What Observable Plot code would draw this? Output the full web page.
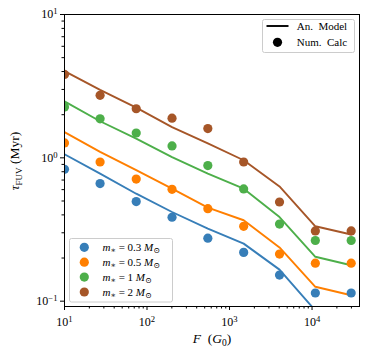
<!DOCTYPE html>
<html><head><meta charset="utf-8">
<script src="https://cdn.jsdelivr.net/npm/d3@7"></script>
<script src="https://cdn.jsdelivr.net/npm/@observablehq/plot@0.6"></script>
<style>body{margin:0;background:#fff}</style>
</head><body><div id="chart"></div>
<script>
// FUV flux values (G0)
const F = [10, 27, 74, 201, 546, 1484, 4034, 10966, 29810];
// Numerical calculation (points), tau_FUV in Myr
const num03 = [0.832, 0.661, 0.495, 0.385, 0.275, 0.219, 0.152, 0.114, 0.114];
const num05 = [1.27, 0.935, 0.711, 0.603, 0.442, 0.333, 0.213, 0.184, 0.184];
const num1  = [2.26, 1.87, 1.49, 1.21, 0.883, 0.607, 0.345, 0.265, 0.265];
const num2  = [3.82, 2.73, 2.20, 1.89, 1.60, 0.935, 0.492, 0.309, 0.309];
// Analytical model (lines)
const mod03 = [1.06, 0.776, 0.562, 0.419, 0.321, 0.252, 0.166, 0.086, 0.075];
const mod05 = [1.51, 1.10, 0.82, 0.61, 0.45, 0.367, 0.237, 0.126, 0.110];
const mod1  = [2.48, 1.80, 1.36, 1.01, 0.776, 0.609, 0.386, 0.204, 0.178];
const mod2  = [4.03, 2.98, 2.24, 1.64, 1.26, 0.962, 0.632, 0.333, 0.292];
const masses = ["0.3", "0.5", "1", "2"];
const colors = ["#377eb8", "#ff7f00", "#4daf4a", "#a65628"];
const xMajor = [10, 100, 1000, 10000];
const xMajorLabels = ["10^1", "10^2", "10^3", "10^4"];
const yMajor = [0.1, 1, 10];
const yMajorLabels = ["10^−1", "10^0", "10^1"];
const xMinor = [20,30,40,50,60,70,80,90,200,300,400,500,600,700,800,900,2000,3000,4000,5000,6000,7000,8000,9000,20000,30000];
const yMinor = [0.2,0.3,0.4,0.5,0.6,0.7,0.8,0.9,2,3,4,5,6,7,8,9];

const nums = [num03, num05, num1, num2];
const mods = [mod03, mod05, mod1, mod2];
const pts = [], lines = [];
masses.forEach((m, i) => {
  F.forEach((f, j) => {
    pts.push({F: f, tau: nums[i][j], m});
    lines.push({F: f, tau: mods[i][j], m});
  });
});

const serif = "'Liberation Serif', 'DejaVu Serif', serif";
const svg = Plot.plot({
  width: 374, height: 357,
  marginLeft: 64, marginRight: 15, marginTop: 14, marginBottom: 51,
  style: {fontFamily: serif, fontSize: "12px", background: "white", color: "black"},
  x: {type: "log", domain: [10, 37600]},
  y: {type: "log", domain: [0.0918, 10]},
  color: {domain: masses, range: colors},
  marks: [
    Plot.line(lines, {x: "F", y: "tau", stroke: "m", z: "m", strokeWidth: 1.9, clip: true}),
    Plot.dot(pts, {x: "F", y: "tau", fill: "m", r: 4.6, clip: true}),
    Plot.axisX(xMinor, {tickSize: 2.5, tickFormat: () => "", label: null}),
    Plot.axisY(yMinor, {tickSize: 2.5, tickFormat: () => "", label: null}),
    Plot.axisX(xMajor, {tickSize: 4, tickPadding: 7, tickFormat: d => xMajorLabels[xMajor.indexOf(d)], label: null}),
    Plot.axisY(yMajor, {tickSize: 4, tickPadding: 3, tickFormat: d => yMajorLabels[yMajor.indexOf(d)], label: null}),
    Plot.frame({stroke: "black", strokeWidth: 1})
  ]
});

const s = d3.select(svg);
// superscript tick labels
s.selectAll('g[aria-label="x-axis tick label"] text, g[aria-label="y-axis tick label"] text').each(function() {
  const t = this.textContent;
  if (!t.includes("^")) return;
  const [b, e] = t.split("^");
  const el = d3.select(this);
  el.text("");
  el.append("tspan").text(b);
  el.append("tspan").attr("dy", "-0.45em").attr("font-size", "0.72em").text(e);
});

// axis labels
const yl = s.append("text").attr("transform", "translate(19,161) rotate(-90)")
  .attr("text-anchor", "middle").attr("font-size", "13.5px").attr("fill", "black");
yl.append("tspan").attr("font-style", "italic").text("τ");
yl.append("tspan").attr("font-size", "9px").attr("dy", "3").text("FUV");
yl.append("tspan").attr("dy", "-3").text(" (Myr)");

const xl = s.append("text").attr("x", 212).attr("y", 343)
  .attr("text-anchor", "middle").attr("font-size", "13.5px").attr("fill", "black")
  .style("white-space", "pre");
xl.append("tspan").attr("font-style", "italic").text("F");
xl.append("tspan").text("  (");
xl.append("tspan").attr("font-style", "italic").text("G");
xl.append("tspan").attr("font-size", "9.5px").attr("dy", "3").text("0");
xl.append("tspan").attr("dy", "-3").text(")");

// legend: model vs numerical
const lg1 = s.append("g").attr("text-anchor", "start");
lg1.append("rect").attr("x", 262.5).attr("y", 19.5).attr("width", 92).attr("height", 33)
  .attr("rx", 2).attr("fill", "white").attr("fill-opacity", 0.8).attr("stroke", "#cccccc");
lg1.append("line").attr("x1", 266.5).attr("x2", 288.5).attr("y1", 26).attr("y2", 26)
  .attr("stroke", "black").attr("stroke-width", 1.9);
lg1.append("circle").attr("cx", 277.5).attr("cy", 42.3).attr("r", 4.6).attr("fill", "black");
lg1.append("text").attr("x", 296.7).attr("y", 30).attr("font-size", "11px").attr("fill", "black")
  .attr("text-anchor", "start").style("white-space", "pre").text("An.  Model");
lg1.append("text").attr("x", 296.7).attr("y", 46).attr("font-size", "11px").attr("fill", "black")
  .attr("text-anchor", "start").style("white-space", "pre").text("Num.  Calc");

// legend: masses
const lg2 = s.append("g").attr("text-anchor", "start");
lg2.append("rect").attr("x", 69.5).attr("y", 238.5).attr("width", 103).attr("height", 63.5)
  .attr("rx", 2).attr("fill", "white").attr("fill-opacity", 0.8).attr("stroke", "#cccccc");
masses.forEach((m, i) => {
  const cy = 247.3 + i * 14.9;
  lg2.append("circle").attr("cx", 84.3).attr("cy", cy).attr("r", 4.6).attr("fill", colors[i]);
  const t = lg2.append("text").attr("x", 102.5).attr("y", cy + 3.8).attr("font-size", "11px")
    .attr("fill", "black").attr("text-anchor", "start");
  t.append("tspan").attr("font-style", "italic").text("m");
  t.append("tspan").attr("font-size", "8px").attr("dy", "2").text("∗");
  t.append("tspan").attr("dy", "-2").text(" = " + m + " ");
  t.append("tspan").attr("font-style", "italic").text("M");
  t.append("tspan").attr("font-size", "8px").attr("dy", "2").text("⊙");
});

document.getElementById("chart").appendChild(svg);
</script>
</body></html>
